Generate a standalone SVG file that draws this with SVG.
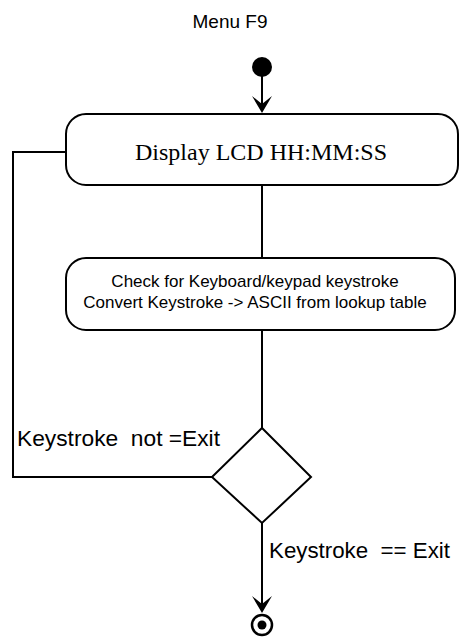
<svg xmlns="http://www.w3.org/2000/svg" width="461" height="642" viewBox="0 0 461 642">
  <style>
    .bg { fill: #ffffff; }
    .box { fill: #ffffff; stroke: #000000; stroke-width: 2; }
    .line { fill: none; stroke: #000000; stroke-width: 2; }
    .head { fill: #000000; }
    .sans { font-family: "Liberation Sans", Arial, sans-serif; fill: #000000; }
    .serif { font-family: "Liberation Serif", "Times New Roman", serif; fill: #000000; }
  </style>
  <defs>
    <!-- notched arrowhead, tip at the origin, pointing down -->
    <path id="head" class="head" d="M0 0 L-10 -17 L0 -9 L10 -17 Z"/>
  </defs>
  <rect class="bg" x="0" y="0" width="461" height="642"/>

  <text class="sans" x="230" y="28" font-size="19" text-anchor="middle">Menu F9</text>

  <g id="connectors">
    <path class="line" d="M262 76 V110"/>
    <use href="#head" x="262" y="113"/>
    <path class="line" d="M262 185 V258"/>
    <path class="line" d="M262 330 V428"/>
    <path class="line" d="M212 477 H13 V152 H66"/>
    <path class="line" d="M262 523 V610"/>
    <use href="#head" x="262" y="613"/>
    <text class="sans" x="17" y="446" font-size="22" textLength="203" lengthAdjust="spacingAndGlyphs">Keystroke&#160; not =Exit</text>
    <text class="sans" x="269" y="558" font-size="22" textLength="181" lengthAdjust="spacingAndGlyphs">Keystroke&#160; == Exit</text>
  </g>

  <g id="start">
    <circle cx="262" cy="67" r="10" fill="#000000"/>
  </g>

  <g id="display">
    <rect class="box" x="66" y="114" width="392" height="71" rx="20" ry="20"/>
    <text class="serif" x="261" y="160" font-size="24" text-anchor="middle">Display LCD HH:MM:SS</text>
  </g>

  <g id="keystroke">
    <rect class="box" x="66" y="258" width="389" height="72" rx="20" ry="20"/>
    <text class="sans" x="255" y="287" font-size="17" text-anchor="middle">Check for Keyboard/keypad keystroke</text>
    <text class="sans" x="255" y="308" font-size="17" text-anchor="middle">Convert Keystroke -&gt; ASCII from lookup table</text>
  </g>

  <g id="decision">
    <polygon class="box" points="262,428 311,477 262,523 212,477"/>
  </g>

  <g id="end">
    <circle cx="262" cy="625" r="10" fill="#ffffff" stroke="#000000" stroke-width="2.5"/>
    <circle cx="262" cy="625" r="4.5" fill="#000000"/>
  </g>
</svg>
